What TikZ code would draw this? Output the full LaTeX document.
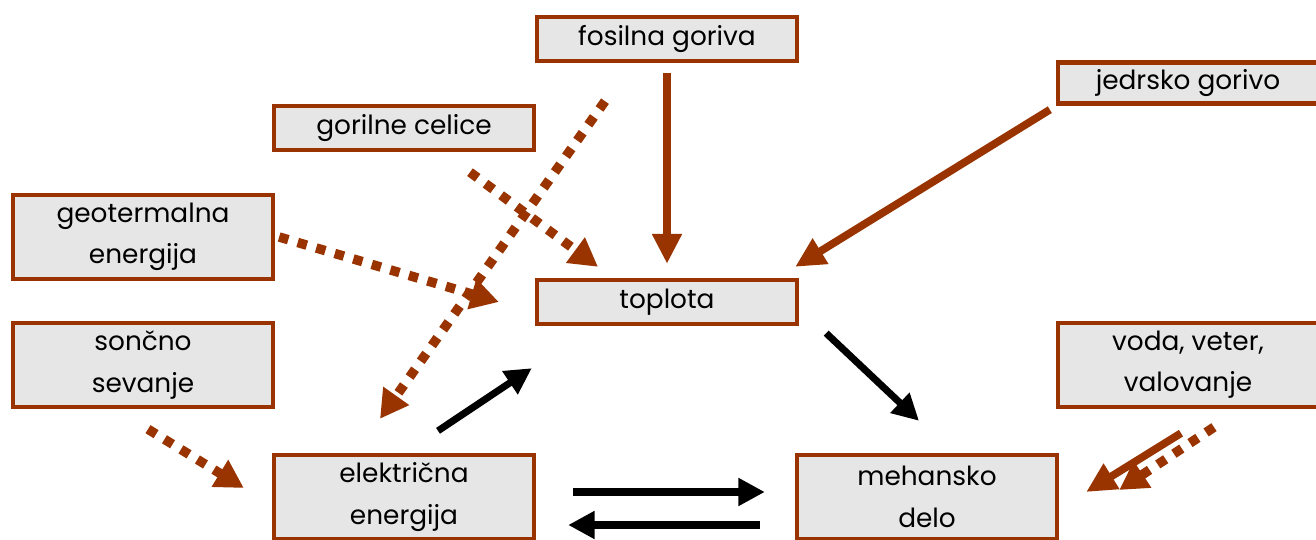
\documentclass[tikz,border=0pt]{standalone}
\usepackage{fontspec}
\setmainfont{Poppins}
\usepackage{tikz}
\usetikzlibrary{arrows.meta,positioning}
\definecolor{rust}{HTML}{993300}
\definecolor{boxgray}{HTML}{E6E6E6}

\begin{document}
\begin{tikzpicture}[
    x=0.02cm, y=-0.02cm,
    font=\fontsize{15pt}{23.5pt}\selectfont,
    srcbox/.style={draw=rust, fill=boxgray, line width=2.5pt, minimum width=5.2cm, minimum height=0.88cm, align=center, inner sep=2pt},
    tallbox/.style={srcbox, minimum height=1.68cm},
    fuelarrow/.style={-{Triangle[length=17pt, width=16pt]}, draw=rust, line width=4.4pt},
    dotarrow/.style={-{Triangle[length=16pt, width=17pt]}, draw=rust, line width=5.4pt, line cap=butt, dash pattern=on 5.4pt off 5.6pt},
    blackarrow/.style={-{Triangle[length=15pt, width=15pt]}, line width=4pt}
]
\useasboundingbox (0,0) rectangle (1316,540);
\clip (0,0) rectangle (1316,540);

% sources
\node[srcbox] (fos) at (667,39) {fosilna goriva};
\node[srcbox] (gor) at (404,128) {gorilne celice};
\node[srcbox, minimum height=0.82cm] (jed) at (1188,83) {jedrsko gorivo};
\node[tallbox] (geo) at (143,237) {geotermalna\\energija};
\node[tallbox] (son) at (143,365) {sončno\\sevanje};
\node[tallbox] (vod) at (1188,365) {voda, veter,\\valovanje};

% forms of energy
\node[srcbox] (top) at (667,302) {toplota};
\node[tallbox] (ele) at (404,497) {električna\\energija};
\node[tallbox] (meh) at (927,497) {mehansko\\delo};

% into heat
\draw[fuelarrow] ([shift={(0,10)}]fos.south) -- ([shift={(0,-14)}]top.north);
\draw[fuelarrow] ([shift={(-6,4)}]jed.south west) -- ([shift={(-4,-11)}]top.north east);
\draw[dotarrow] ([shift={(66,20)}]gor.south) -- ([shift={(-69,-11)}]top.north);
\draw[dotarrow] ([shift={(4,0)}]geo.east) -- ([shift={(-36,0)}]top.west);

% into electricity
\draw[dotarrow] ([shift={(-62,38)}]fos.south) -- ([shift={(-24,-34)}]ele.north);
\draw[dotarrow] ([shift={(5,20)}]son.south) -- ([shift={(-28,-9)}]ele.west);

% into work
\draw[fuelarrow] ([shift={(-7,24)}]vod.south) -- ([shift={(27,-5)}]meh.east);
\draw[dotarrow] ([shift={(26,18)}]vod.south) -- ([shift={(60,-7)}]meh.east);

% conversions
\draw[blackarrow] ([shift={(34,-22)}]ele.north) -- ([shift={(-3,42)}]top.south west);
\draw[blackarrow] ([shift={(27,7)}]top.south east) -- ([shift={(-8,-32)}]meh.north);
\draw[blackarrow] ([shift={(37,-5)}]ele.east) -- ([shift={(-30,-5)}]meh.west);
\draw[blackarrow] ([shift={(-35,28)}]meh.west) -- ([shift={(32,28)}]ele.east);

\end{tikzpicture}
\end{document}
